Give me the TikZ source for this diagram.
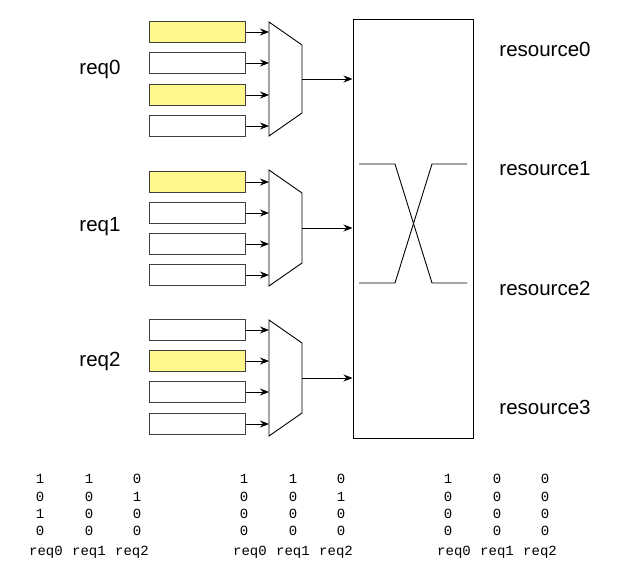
\documentclass[tikz,border=0pt]{standalone}
\usepackage{fontspec}
\setmainfont{Liberation Sans}
\setmonofont{Liberation Mono}
\usetikzlibrary{arrows.meta}
\tikzset{
  buf/.style={draw=black!75,line width=1pt,minimum width=96pt,minimum height=21pt,inner sep=0pt},
  hot/.style={buf,fill=yellow!45},
  lbl/.style={font=\fontsize{20.5}{24}\selectfont},
  bit/.style={font=\ttfamily\fontsize{14}{16}\selectfont,inner sep=0pt},
  link/.style={line width=0.9pt,-{Stealth[length=9pt,width=7pt]}}
}
\begin{document}
\begin{tikzpicture}[x=1pt,y=-1pt]
      \useasboundingbox (0,0) rectangle (619,572);
      \draw
        (197.5,32) node[hot] (b00){}
        (197.5,63) node[buf] (b01){}
        (197.5,95) node[hot] (b02){}
        (197.5,126) node[buf] (b03){}
        (197.5,182) node[hot] (b10){}
        (197.5,213) node[buf] (b11){}
        (197.5,244) node[buf] (b12){}
        (197.5,275) node[buf] (b13){}
        (197.5,330) node[buf] (b20){}
        (197.5,361) node[hot] (b21){}
        (197.5,392) node[buf] (b22){}
        (197.5,424) node[buf] (b23){};
      \draw
        (100,69) node[lbl] (req0){req0}
        (100,227) node[lbl] (req1){req1}
        (100,361) node[lbl] (req2){req2}
        (545,49) node[lbl] (res0){resource0}
        (545,169) node[lbl] (res1){resource1}
        (545,288) node[lbl] (res2){resource2}
        (545,407) node[lbl] (res3){resource3};
      \node[draw,line width=1pt,minimum width=120pt,minimum height=418pt] (xbar) at (413,229) {};
      \begin{scope}[line width=0.9pt]
        \draw (269,22) -- (302,45) -- (302,113) -- (269,136) -- cycle;
        \draw (269,170) -- (302,193) -- (302,263) -- (269,286) -- cycle;
        \draw (269,320) -- (302,343) -- (302,413) -- (269,436) -- cycle;
        \draw (359,164) -- (395,164) -- (432,283) -- (467,283);
        \draw (359,283) -- (395,283) -- (432,164) -- (467,164);
      \end{scope}
      \foreach \g in {0,1,2}
        \foreach \i in {0,1,2,3}
          \coordinate (m\g i\i) at (269,0 |- b\g\i.east);
      \coordinate (m0o) at (302,79);
      \coordinate (m1o) at (302,228);
      \coordinate (m2o) at (302,378);
      \begin{scope}[link]
        \foreach \g in {0,1,2}
          \foreach \i in {0,1,2,3}
            \draw (b\g\i.east) -- (m\g i\i);
        \draw (m0o) -- (m0o -| xbar.west);
        \draw (m1o) -- (m1o -| xbar.west);
        \draw (m2o) -- (m2o -| xbar.west);
      \end{scope}
      \foreach \m/\x in {0/29,1/233,2/437} {
        \node[bit] (t\m0) at (\x+17,552) {req0};
        \node[bit] (t\m1) at (\x+60,552) {req1};
        \node[bit] (t\m2) at (\x+103,552) {req2};
      }
      \foreach \m/\x/\r/\a/\b/\c in {
          0/29/0/1/1/0, 0/29/1/0/0/1, 0/29/2/1/0/0, 0/29/3/0/0/0,
          1/233/0/1/1/0, 1/233/1/0/0/1, 1/233/2/0/0/0, 1/233/3/0/0/0,
          2/437/0/1/0/0, 2/437/1/0/0/0, 2/437/2/0/0/0, 2/437/3/0/0/0} {
        \node[bit] (d\m-\r-0) at (\x+11,479+17.4*\r) {\a};
        \node[bit] (d\m-\r-1) at (\x+60,479+17.4*\r) {\b};
        \node[bit] (d\m-\r-2) at (\x+108,479+17.4*\r) {\c};
      }
    \end{tikzpicture}
\end{document}
